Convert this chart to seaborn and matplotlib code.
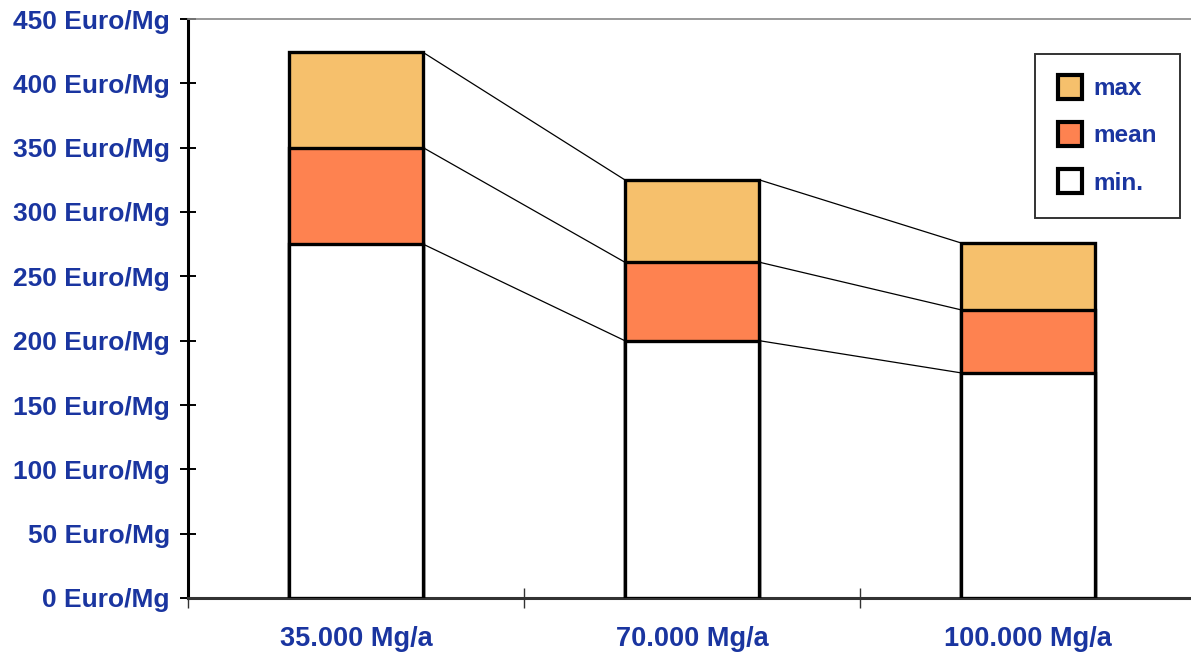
import matplotlib
matplotlib.use("Agg")
import matplotlib.pyplot as plt
import seaborn as sns
import pandas as pd
from matplotlib.lines import Line2D

# Werte (kumulierte Obergrenzen je Segment)
categories = ["35.000 Mg/a", "70.000 Mg/a", "100.000 Mg/a"]
min_vals = [275, 200, 175]
mean_vals = [350, 261, 224]
max_vals = [424, 325, 276]
y_ticks = [0, 50, 100, 150, 200, 250, 300, 350, 400, 450]

blue = "#1a35a0"
colors = {"max": "#f6c06c", "mean": "#fe8250", "min.": "#ffffff"}

sns.set_style("white")
plt.rcParams['font.family'] = ['Liberation Sans', 'DejaVu Sans']

df = pd.DataFrame({"cat": categories, "min.": min_vals, "mean": mean_vals, "max": max_vals})

fig = plt.figure(figsize=(11.91, 6.54), dpi=100)
ax = fig.add_axes([188 / 1191, 1 - 598 / 654, 1008 / 1191, 579 / 654])

bw = 0.4
for key in ["max", "mean", "min."]:
    sns.barplot(data=df, x="cat", y=key, color=colors[key], width=bw,
                edgecolor="black", linewidth=2.4, saturation=1, ax=ax, zorder=3)

# Verbindungslinien zwischen den Säulen
for series in [min_vals, mean_vals, max_vals]:
    for i in range(len(series) - 1):
        ax.plot([i + bw / 2, i + 1 - bw / 2], [series[i], series[i + 1]],
                color="black", lw=0.9, zorder=2)

ax.set_xlim(-0.5, 2.5)
ax.set_ylim(0, 450)
ax.set_xlabel("")
ax.set_ylabel("")

ax.set_yticks(y_ticks)
ax.set_yticklabels([f"{v} Euro/Mg" for v in y_ticks], color=blue,
                   fontsize=19, fontweight="bold")
ax.tick_params(axis="y", left=True, direction="inout", length=12, width=1.4, color="black", pad=7)

ax.set_xticks([-0.5, 0.5, 1.5])
ax.set_xticklabels([])
ax.set_xticks([0, 1, 2], minor=True)
ax.set_xticklabels(categories, minor=True, color=blue, fontsize=19.5, fontweight="bold")
ax.tick_params(axis="x", which="major", bottom=True, direction="inout", length=14, width=1, color="#333333")
ax.tick_params(axis="x", which="minor", bottom=True, length=0, pad=20)

ax.spines["left"].set_color("black")
ax.spines["left"].set_linewidth(2.2)
ax.spines["bottom"].set_color("#333333")
ax.spines["bottom"].set_linewidth(2.2)
ax.spines["top"].set_color("#888888")
ax.spines["top"].set_linewidth(1.2)
ax.spines["right"].set_visible(False)

handles = [Line2D([], [], marker="s", ls="none", markersize=17, markerfacecolor=colors[k],
                  markeredgecolor="black", markeredgewidth=3) for k in ["max", "mean", "min."]]
leg = ax.legend(handles, ["max", "mean", "min."], loc="upper left",
                bbox_to_anchor=((1035 - 188) / 1008, 1 - (54 - 19) / 579), frameon=True, fancybox=False,
                edgecolor="#333333", framealpha=1, borderpad=0.95, labelspacing=1.0,
                handlelength=0.95, handletextpad=0.5, borderaxespad=0,
                prop={"weight": "bold", "size": 17.5})
leg.get_frame().set_linewidth(1.4)
for t in leg.get_texts():
    t.set_color(blue)

fig.savefig("out.png", dpi=100)
